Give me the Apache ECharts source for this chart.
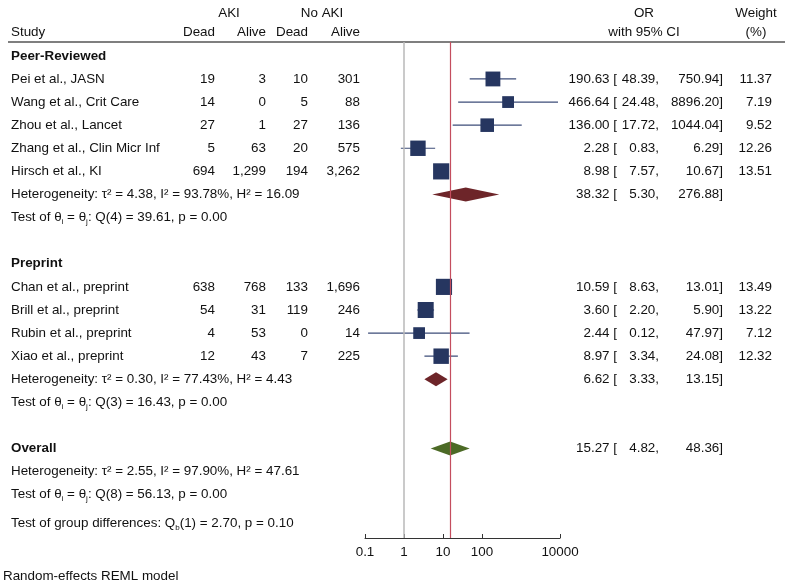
<!DOCTYPE html>
<html>
<head>
<meta charset="utf-8">
<script src="https://cdn.jsdelivr.net/npm/echarts@6/dist/echarts.min.js"></script>
<style>
    html, body { margin: 0; padding: 0; background: #fff; }
    #forest { width: 789px; height: 586px; }
</style>
</head>
<body>
<div id="forest"></div>
<script>
// studies
const studies = ['Pei et al., JASN', 'Wang et al., Crit Care', 'Zhou et al., Lancet', 'Zhang et al., Clin Micr Inf', 'Hirsch et al., KI',
    'Chan et al., preprint', 'Brill et al., preprint', 'Rubin et al., preprint', 'Xiao et al., preprint'];
const studyRow = [1, 2, 3, 4, 5, 10, 11, 12, 13];
const akiDead = [19, 14, 27, 5, 694, 638, 54, 4, 12];
const akiAlive = [3, 0, 1, 63, 1299, 768, 31, 53, 43];
const noAkiDead = [10, 5, 27, 20, 194, 133, 119, 0, 7];
const noAkiAlive = [301, 88, 136, 575, 3262, 1696, 246, 14, 225];
const orEst = [190.63, 466.64, 136.00, 2.28, 8.98, 10.59, 3.60, 2.44, 8.97];
const orLow = [48.39, 24.48, 17.72, 0.83, 7.57, 8.63, 2.20, 0.12, 3.34];
const orHigh = [750.94, 8896.20, 1044.04, 6.29, 10.67, 13.01, 5.90, 47.97, 24.08];
const weights = [11.37, 7.19, 9.52, 12.26, 13.51, 13.49, 13.22, 7.12, 12.32];

// subgroups
const groupNames = ['Peer-Reviewed', 'Preprint'];
const groupRow = [0, 9];
const groupHetRow = [6, 14];
const groupTestRow = [7, 15];
const groupOr = [38.32, 6.62];
const groupLow = [5.30, 3.33];
const groupHigh = [276.88, 13.15];
const groupTau2 = ['4.38', '0.30'];
const groupI2 = ['93.78', '77.43'];
const groupH2 = ['16.09', '4.43'];
const groupQdf = [4, 3];
const groupQ = ['39.61', '16.43'];
const groupP = ['0.00', '0.00'];

// overall
const overallRow = 17;
const overallOr = 15.27;
const overallLow = 4.82;
const overallHigh = 48.36;
const overallTau2 = '2.55';
const overallI2 = '97.90';
const overallH2 = '47.61';
const overallQdf = 8;
const overallQ = '56.13';
const overallP = '0.00';
const diffRow = 20.25;
const diffQdf = 1;
const diffQ = '2.70';
const diffP = '0.10';

const xTicks = [0.1, 1, 10, 100, 10000];

const FONT = '"Liberation Sans", Arial, sans-serif';
const FS = 13.4;
const TXT = '#111';

// column x positions (px)
const COL = { study: 11, akiDead: 215, akiAlive: 266, noDead: 308, noAlive: 360, est: 617, lo: 659, hi: 723, w: 772 };

function n(v) { return v.toLocaleString('en-US'); }

function orCells(est, lo, hi) {
    return [
        { text: est.toFixed(2) + ' [', x: COL.est, align: 'right' },
        { text: lo.toFixed(2) + ',', x: COL.lo, align: 'right' },
        { text: hi.toFixed(2) + ']', x: COL.hi, align: 'right' }
    ];
}
function hetText(t, i2, h2) {
    return 'Heterogeneity: τ² = ' + t + ', I² = ' + i2 + '%, H² = ' + h2;
}
function testText(df, q, p) {
    return '{n|Test of θ}{s|i}{n| = θ}{s|j}{n|: Q(' + df + ') = ' + q + ', p = ' + p + '}';
}

// table rows built from the arrays above
const tableRows = [];
studies.forEach(function (name, i) {
    tableRows.push({
        row: studyRow[i],
        cells: [
            { text: name, x: COL.study, align: 'left' },
            { text: n(akiDead[i]), x: COL.akiDead, align: 'right' },
            { text: n(akiAlive[i]), x: COL.akiAlive, align: 'right' },
            { text: n(noAkiDead[i]), x: COL.noDead, align: 'right' },
            { text: n(noAkiAlive[i]), x: COL.noAlive, align: 'right' },
            { text: weights[i].toFixed(2), x: COL.w, align: 'right' }
        ].concat(orCells(orEst[i], orLow[i], orHigh[i]))
    });
});
groupNames.forEach(function (g, k) {
    tableRows.push({ row: groupRow[k], cells: [{ text: g, x: COL.study, align: 'left', bold: true }] });
    tableRows.push({
        row: groupHetRow[k],
        cells: [{ text: hetText(groupTau2[k], groupI2[k], groupH2[k]), x: COL.study, align: 'left' }]
            .concat(orCells(groupOr[k], groupLow[k], groupHigh[k]))
    });
    tableRows.push({ row: groupTestRow[k], cells: [{ text: testText(groupQdf[k], groupQ[k], groupP[k]), x: COL.study, align: 'left', rich: true }] });
});
tableRows.push({
    row: overallRow,
    cells: [{ text: 'Overall', x: COL.study, align: 'left', bold: true }].concat(orCells(overallOr, overallLow, overallHigh))
});
tableRows.push({ row: overallRow + 1, cells: [{ text: hetText(overallTau2, overallI2, overallH2), x: COL.study, align: 'left' }] });
tableRows.push({ row: overallRow + 2, cells: [{ text: testText(overallQdf, overallQ, overallP), x: COL.study, align: 'left', rich: true }] });
tableRows.push({
    row: diffRow,
    cells: [{ text: '{n|Test of group differences: Q}{s|b}{n|(' + diffQdf + ') = ' + diffQ + ', p = ' + diffP + '}', x: COL.study, align: 'left', rich: true }]
});

const richStyle = {
    n: { fontSize: FS, fontFamily: FONT, fill: TXT, lineHeight: 16 },
    s: { fontSize: 8, fontFamily: FONT, fill: TXT, lineHeight: 5, verticalAlign: 'bottom' }
};

function headText(text, x, y, align) {
    return { type: 'text', x: x, y: y, style: { text: text, fontSize: FS, fontFamily: FONT, fill: TXT, align: align, verticalAlign: 'middle' } };
}

const myChart = echarts.init(document.getElementById('forest'));

const option = {
    animation: false,
    backgroundColor: '#fff',
    grid: { left: 365, right: 229, top: 42, bottom: 48 },
    xAxis: {
        type: 'log',
        logBase: 10,
        min: 0.1,
        max: 10000,
        splitLine: { show: false },
        axisLine: { onZero: false, lineStyle: { color: '#333', width: 1 } },
        axisTick: { inside: true, length: 4, customValues: xTicks, lineStyle: { color: '#333' } },
        axisLabel: {
            customValues: xTicks,
            color: TXT,
            fontSize: FS,
            fontFamily: FONT,
            margin: 8,
            formatter: function (v) { return String(+(+v).toPrecision(6)); }
        }
    },
    yAxis: {
        type: 'value',
        inverse: true,
        min: -0.6,
        max: 20.87,
        show: false
    },
    graphic: [
        headText('Study', 11, 32, 'left'),
        headText('AKI', 229, 13, 'center'),
        headText('No AKI', 322, 13, 'center'),
        headText('Dead', COL.akiDead, 32, 'right'),
        headText('Alive', COL.akiAlive, 32, 'right'),
        headText('Dead', COL.noDead, 32, 'right'),
        headText('Alive', COL.noAlive, 32, 'right'),
        headText('OR', 644, 13, 'center'),
        headText('with 95% CI', 644, 32, 'center'),
        headText('Weight', 756, 13, 'center'),
        headText('(%)', 756, 32, 'center'),
        { type: 'line', shape: { x1: 8, y1: 42, x2: 785, y2: 42 }, style: { stroke: '#555', lineWidth: 1.5 } },
        headText('Random-effects REML model', 3, 576, 'left')
    ],
    series: [
        {
            // reference lines: no effect and overall estimate
            name: 'ref',
            type: 'line',
            data: [],
            silent: true,
            z: 1,
            markLine: {
                symbol: 'none',
                silent: true,
                label: { show: false },
                animation: false,
                data: [
                    { xAxis: 1, lineStyle: { color: '#b8b8b8', width: 1.5, type: 'solid' } },
                    { xAxis: overallOr, lineStyle: { color: '#c44d5e', width: 1.2, type: 'solid' } }
                ]
            }
        },
        {
            name: 'studies',
            type: 'custom',
            z: 3,
            clip: false,
            data: studies.map(function (s, i) { return [orEst[i], studyRow[i], orLow[i], orHigh[i], weights[i]]; }),
            renderItem: function (params, api) {
                const c = api.coord([api.value(0), api.value(1)]);
                const l = api.coord([api.value(2), api.value(1)]);
                const h = api.coord([api.value(3), api.value(1)]);
                const s = 4.4 * Math.sqrt(api.value(4));
                return {
                    type: 'group',
                    children: [
                        { type: 'line', shape: { x1: l[0], y1: c[1], x2: h[0], y2: c[1] }, style: { stroke: '#3d4c78', lineWidth: 1.2 } },
                        { type: 'rect', shape: { x: c[0] - s / 2, y: c[1] - s / 2, width: s, height: s }, style: { fill: '#263660' } }
                    ]
                };
            }
        },
        {
            name: 'summaries',
            type: 'custom',
            z: 3,
            clip: false,
            data: [
                [groupOr[0], groupHetRow[0], groupLow[0], groupHigh[0], 0],
                [groupOr[1], groupHetRow[1], groupLow[1], groupHigh[1], 0],
                [overallOr, overallRow, overallLow, overallHigh, 1]
            ],
            renderItem: function (params, api) {
                const c = api.coord([api.value(0), api.value(1)]);
                const l = api.coord([api.value(2), api.value(1)]);
                const h = api.coord([api.value(3), api.value(1)]);
                const hh = 7;
                return {
                    type: 'polygon',
                    shape: { points: [[l[0], c[1]], [c[0], c[1] - hh], [h[0], c[1]], [c[0], c[1] + hh]] },
                    style: { fill: api.value(4) === 1 ? '#4c6a26' : '#6d2529' }
                };
            }
        },
        {
            name: 'table',
            type: 'custom',
            z: 2,
            clip: false,
            silent: true,
            data: tableRows.map(function (r, i) { return [1, r.row, i]; }),
            renderItem: function (params, api) {
                const y = api.coord([1, api.value(1)])[1];
                const r = tableRows[api.value(2)];
                return {
                    type: 'group',
                    children: r.cells.map(function (cell) {
                        const st = {
                            text: cell.text,
                            fill: TXT,
                            align: cell.align,
                            verticalAlign: 'middle',
                            fontSize: FS,
                            fontFamily: FONT,
                            fontWeight: cell.bold ? 'bold' : 'normal'
                        };
                        if (cell.rich) st.rich = richStyle;
                        return { type: 'text', x: cell.x, y: y, style: st };
                    })
                };
            }
        }
    ]
};
myChart.setOption(option);
</script>
</body>
</html>
